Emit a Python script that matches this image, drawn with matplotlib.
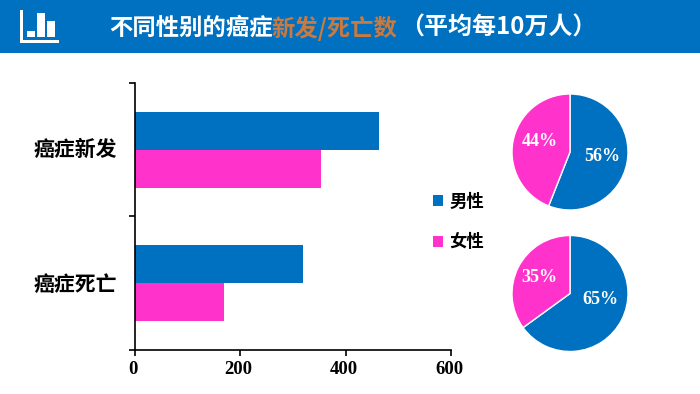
import matplotlib
matplotlib.use("Agg")
from matplotlib import pyplot as plt
from matplotlib.patches import Rectangle
from matplotlib.transforms import ScaledTranslation

plt.rcParams['font.family'] = ['Noto Sans CJK SC', 'DejaVu Sans']

W, H = 700, 394

categories = ['癌症新发', '癌症死亡']
series_names = ['男性', '女性']
male_values = [463, 320]
female_values = [354, 169]
x_ticks = [0, 200, 400, 600]
male_share = [56, 65]
female_share = [44, 35]

BLUE = '#0070C0'
PINK = '#FF33CC'
ORANGE = '#C97A40'
SERIF = ['Liberation Serif', 'DejaVu Serif']


def fx(px):
    return px / W


def fy(py):
    return 1 - py / H


def axes_box(x0, y0, x1, y1):
    # pixel box (y from top) to figure fractions
    return [fx(x0), fy(y1), fx(x1) - fx(x0), fy(y0) - fy(y1)]


fig = plt.figure(figsize=(7, 3.94), dpi=100, facecolor='white')

# header band
fig.add_artist(Rectangle((0, fy(53)), 1, 53 / H, transform=fig.transFigure, color=BLUE, lw=0))

# header icon
for x0, y0, x1, y1 in [(19.5, 10, 23, 43), (19.5, 40, 59.5, 43), (27, 31, 35, 37), (37, 13, 45, 37), (47.5, 21, 55.5, 37)]:
    fig.add_artist(Rectangle((fx(x0), fy(y1)), (x1 - x0) / W, (y1 - y0) / H,
                             transform=fig.transFigure, color='white', lw=0))

# title in three colour runs
fig.text(fx(109), fy(28), '不同性别的癌症', color='white', fontsize=16.8, fontweight='bold', va='center')
fig.text(fx(271), fy(28), '新发/死亡数', color=ORANGE, fontsize=16.8, fontweight='bold', va='center')
fig.text(fx(400), fy(28), '（平均每10万人）', color='white', fontsize=17.3, fontweight='bold', va='center')

# bar chart
ax = fig.add_axes(axes_box(134.5, 83, 451, 349.5))
pos = [1.5, 0.5]
bar_h = 0.286
male_bars = ax.barh([p + bar_h / 2 for p in pos], male_values, height=bar_h, color=BLUE, label=series_names[0])
female_bars = ax.barh([p - bar_h / 2 for p in pos], female_values, height=bar_h, color=PINK, label=series_names[1])
ax.set_xlim(0, 600)
ax.set_ylim(0, 2)
ax.spines['top'].set_visible(False)
ax.spines['right'].set_visible(False)
ax.spines['left'].set_linewidth(1.2)
ax.spines['bottom'].set_linewidth(1.2)
ax.set_xticks(x_ticks)
ax.set_xticklabels(x_ticks, family=SERIF, fontweight='bold', fontsize=13.5)
ax.set_yticks([0, 1, 2])
ax.set_yticklabels([])
ax.tick_params(axis='both', length=4.5, width=1.2, direction='out')
ax.tick_params(axis='x', pad=4)

# tick labels sit about 2px left of their ticks in the original
shift = ScaledTranslation(-2 / 100, 0, fig.dpi_scale_trans)
for lab in ax.get_xticklabels():
    lab.set_transform(lab.get_transform() + shift)

for name, p, off in zip(categories, pos, [0, -0.015]):
    ax.text(-33, p + off, name, ha='right', va='center', fontsize=15, fontweight='bold', color='black')

# legend
fig.legend(handles=[male_bars, female_bars], labels=series_names, loc='center left',
           bbox_to_anchor=(fx(433), fy(222)), frameon=False,
           prop={'weight': 'bold', 'size': 12.5}, handlelength=0.58, handleheight=0.58,
           handletextpad=0.35, labelspacing=1.3, borderpad=0, borderaxespad=0, labelcolor='black')

# pies
pie_centers = [152, 293.5]
label_pos = [((602, 156), (540, 141)), ((600, 300), (539, 278))]
R = 59
for cy, m, f, lp in zip(pie_centers, male_share, female_share, label_pos):
    pax = fig.add_axes(axes_box(570 - R, cy - R, 570 + R, cy + R))
    pax.pie([m, f], colors=[BLUE, PINK], startangle=90, counterclock=False, radius=1,
            wedgeprops={'edgecolor': 'white', 'linewidth': 1})
    pax.set_xlim(-R / 58, R / 58)
    pax.set_ylim(-R / 58, R / 58)
    fig.text(fx(lp[0][0]), fy(lp[0][1]), f'{m}%', color='white', family=SERIF, fontweight='bold',
             fontsize=13, ha='center', va='center')
    fig.text(fx(lp[1][0]), fy(lp[1][1]), f'{f}%', color='white', family=SERIF, fontweight='bold',
             fontsize=13, ha='center', va='center')

fig.savefig('out.png', dpi=100)
